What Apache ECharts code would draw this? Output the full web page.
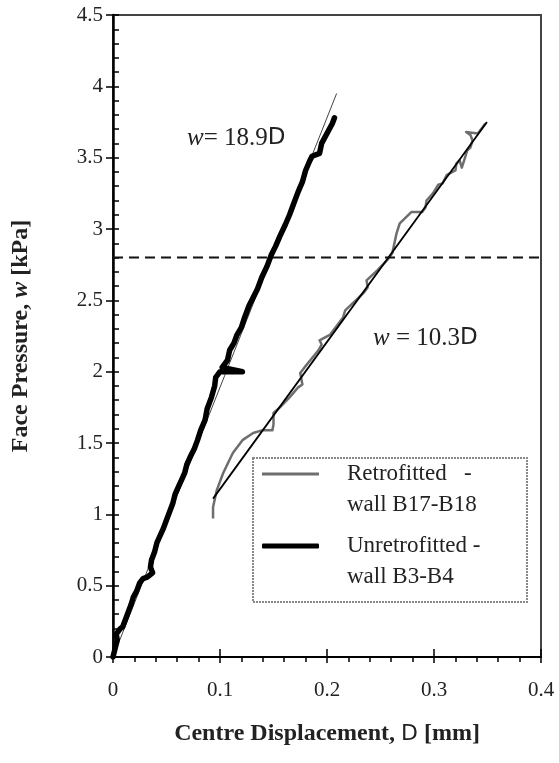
<!DOCTYPE html>
<html lang="en">
<head>
<meta charset="UTF-8">
<title>Face pressure vs centre displacement</title>
<style>
  html, body { margin: 0; padding: 0; background: #fff; }
  #chart { width: 559px; height: 763px; }
</style>
<script src="https://cdn.jsdelivr.net/npm/echarts@6/dist/echarts.min.js"></script>
</head>
<body>
<div id="chart"></div>
<script>
// unretrofitted wall B3-B4, [D (mm), w (kPa)]
const unretrofitted = [
  [0, 0], [0.002, 0.06], [0.004, 0.12], [0.003, 0.16], [0.007, 0.20], [0.009, 0.21],
  [0.012, 0.27], [0.014, 0.31], [0.017, 0.37], [0.019, 0.42], [0.022, 0.46], [0.025, 0.52],
  [0.028, 0.55], [0.032, 0.56], [0.037, 0.59], [0.035, 0.63], [0.036, 0.68], [0.039, 0.74],
  [0.041, 0.80], [0.044, 0.85], [0.047, 0.90], [0.050, 0.96], [0.053, 1.02], [0.056, 1.08],
  [0.058, 1.14], [0.061, 1.19], [0.064, 1.24], [0.067, 1.29], [0.069, 1.35], [0.072, 1.40],
  [0.076, 1.46], [0.079, 1.52], [0.082, 1.59], [0.086, 1.66], [0.088, 1.74], [0.092, 1.82],
  [0.095, 1.90], [0.096, 1.96], [0.100, 2.00], [0.121, 2.00], [0.102, 2.03], [0.107, 2.08],
  [0.109, 2.15], [0.113, 2.20], [0.116, 2.26], [0.120, 2.31], [0.123, 2.38], [0.127, 2.46],
  [0.131, 2.52], [0.135, 2.58], [0.139, 2.66], [0.144, 2.74], [0.148, 2.82], [0.152, 2.88],
  [0.156, 2.95], [0.161, 3.03], [0.165, 3.10], [0.169, 3.18], [0.173, 3.26], [0.177, 3.33],
  [0.180, 3.41], [0.184, 3.48], [0.186, 3.51], [0.193, 3.53], [0.195, 3.60], [0.200, 3.67],
  [0.205, 3.74], [0.207, 3.78]
];

// retrofitted wall B17-B18
const retrofitted = [
  [0.0935, 0.97], [0.0935, 1.05], [0.097, 1.17], [0.103, 1.29], [0.112, 1.43], [0.121, 1.52],
  [0.131, 1.57], [0.140, 1.59], [0.149, 1.59], [0.150, 1.63], [0.150, 1.71], [0.156, 1.75],
  [0.165, 1.82], [0.173, 1.89], [0.177, 1.91], [0.175, 1.99], [0.179, 2.03], [0.192, 2.15],
  [0.195, 2.19], [0.193, 2.22], [0.203, 2.26], [0.215, 2.38], [0.217, 2.43], [0.234, 2.55],
  [0.238, 2.59], [0.237, 2.64], [0.247, 2.71], [0.256, 2.78], [0.261, 2.83], [0.265, 2.97],
  [0.268, 3.04], [0.279, 3.12], [0.289, 3.12], [0.292, 3.15], [0.293, 3.20], [0.299, 3.25],
  [0.304, 3.31], [0.308, 3.32], [0.312, 3.38], [0.320, 3.41], [0.321, 3.46], [0.324, 3.48],
  [0.326, 3.43], [0.329, 3.50], [0.331, 3.55], [0.334, 3.57], [0.336, 3.62], [0.334, 3.66],
  [0.330, 3.68], [0.341, 3.67], [0.348, 3.74]
];

// fitted lines and the dashed reference level
const fitUnretro = [[0, 0], [0.209, 3.95]];      // w = 18.9D
const fitRetro = [[0.0935, 1.11], [0.3495, 3.75]]; // w = 10.3D
const refLevel = [[0, 2.8], [0.4, 2.8]];

const serif = 'Liberation Serif';
const symFont = 'Liberation Sans Narrow, DejaVu Sans';

const chart = echarts.init(document.getElementById('chart'));

// first line is blank so the legend line sits level with the first text line
const legendText = {
  fontFamily: serif,
  fontSize: 23,
  color: '#222',
  lineHeight: 31,
  padding: [0, 0, 0, 23]
};
const legendNames = {
  Retrofitted: ' \nRetrofitted   -\nwall B17-B18',
  Unretrofitted: ' \nUnretrofitted -\nwall B3-B4'
};

chart.setOption({
  backgroundColor: '#fff',
  animation: false,
  grid: {
    left: 113, right: 18, top: 15, bottom: 106,
    show: true, borderColor: '#444', borderWidth: 2
  },
  xAxis: [{
    type: 'value', min: 0, max: 0.4, interval: 0.1,
    axisLine: { lineStyle: { color: '#000', width: 2 } },
    axisTick: { length: 6, lineStyle: { color: '#000', width: 1.5 } },
    minorTick: { show: true, splitNumber: 5, length: 5, lineStyle: { color: '#000', width: 1.5 } },
    splitLine: { show: false },
    axisLabel: { margin: 23, fontFamily: serif, fontSize: 21, color: '#222' },
    name: '{b|Centre Displacement, }{d|D}{b| [mm]}',
    nameLocation: 'middle',
    nameGap: 65,
    nameTextStyle: {
      rich: {
        b: { fontFamily: serif, fontWeight: 'bold', fontSize: 24, color: '#222' },
        d: { fontFamily: symFont, fontSize: 22, color: '#222' }
      }
    }
  }, {
    type: 'value', min: 0, max: 0.4, interval: 0.1, position: 'bottom',
    axisLine: { show: false },
    axisTick: { show: true, inside: true, length: 8, lineStyle: { color: '#000', width: 1.5 } },
    axisLabel: { show: false },
    splitLine: { show: false }
  }],
  yAxis: [{
    type: 'value', min: 0, max: 4.5, interval: 0.5,
    axisLine: { show: true, lineStyle: { color: '#000', width: 2.5 } },
    axisTick: { show: true, length: 7, lineStyle: { color: '#000', width: 1.5 } },
    splitLine: { show: false },
    axisLabel: { margin: 10, fontFamily: serif, fontSize: 21, color: '#222' },
    name: '{b|Face Pressure, }{i|w}{b| [kPa]}',
    nameLocation: 'middle',
    nameGap: 80,
    nameTextStyle: {
      rich: {
        b: { fontFamily: serif, fontWeight: 'bold', fontSize: 24, color: '#222' },
        i: { fontFamily: serif, fontWeight: 'bold', fontStyle: 'italic', fontSize: 24, color: '#222' }
      }
    }
  }, {
    type: 'value', min: 0, max: 4.5, interval: 0.5, position: 'left',
    axisLine: { show: false },
    axisTick: { show: true, inside: true, length: 6, lineStyle: { color: '#000', width: 1.5 } },
    minorTick: { show: true, splitNumber: 5, length: 6, lineStyle: { color: '#000', width: 1.5 } },
    axisLabel: { show: false },
    splitLine: { show: false }
  }],
  legend: [{
    data: [{ name: 'Retrofitted', icon: 'rect' }],
    left: 262, top: 427.5, padding: 0,
    itemWidth: 57, itemHeight: 3,
    itemStyle: { borderWidth: 0 },
    selectedMode: false,
    formatter: n => legendNames[n],
    textStyle: legendText
  }, {
    data: [{ name: 'Unretrofitted', icon: 'roundRect' }],
    left: 262, top: 499.5, padding: 0,
    itemWidth: 57, itemHeight: 5,
    itemStyle: { borderWidth: 0 },
    selectedMode: false,
    formatter: n => legendNames[n],
    textStyle: legendText
  }],
  graphic: [{
    type: 'rect', left: 252, top: 457, z: 0,
    shape: { width: 274, height: 144 },
    style: { fill: 'transparent', stroke: '#888', lineWidth: 2, lineDash: [2, 1] }
  }, {
    type: 'text', left: 187, top: 126,
    style: {
      text: '{i|w}{n|= 18.9}{d|D}',
      rich: {
        i: { fontFamily: serif, fontStyle: 'italic', fontSize: 25, fill: '#222' },
        n: { fontFamily: serif, fontSize: 25, fill: '#222' },
        d: { fontFamily: symFont, fontSize: 23, fill: '#222' }
      }
    }
  }, {
    type: 'text', left: 373, top: 326,
    style: {
      text: '{i|w}{n| = 10.3}{d|D}',
      rich: {
        i: { fontFamily: serif, fontStyle: 'italic', fontSize: 25, fill: '#222' },
        n: { fontFamily: serif, fontSize: 25, fill: '#222' },
        d: { fontFamily: symFont, fontSize: 23, fill: '#222' }
      }
    }
  }],
  series: [{
    name: 'fit18', type: 'line', data: fitUnretro, symbol: 'none', silent: true, z: 1,
    lineStyle: { color: '#444', width: 1 }
  }, {
    name: 'Unretrofitted', type: 'line', data: unretrofitted, symbol: 'none', z: 3,
    itemStyle: { color: '#000' },
    lineStyle: { color: '#000', width: 5.5, join: 'round', cap: 'round' }
  }, {
    name: 'Retrofitted', type: 'line', data: retrofitted, symbol: 'none', z: 2,
    itemStyle: { color: '#6e6e6e' },
    lineStyle: { color: '#6e6e6e', width: 2.5, join: 'round' }
  }, {
    name: 'fit10', type: 'line', data: fitRetro, symbol: 'none', silent: true, z: 4,
    lineStyle: { color: '#000', width: 1.8 }
  }, {
    name: 'ref', type: 'line', data: refLevel, symbol: 'none', silent: true, z: 4,
    lineStyle: { color: '#111', width: 2, type: [10, 6] }
  }]
});
</script>
</body>
</html>
